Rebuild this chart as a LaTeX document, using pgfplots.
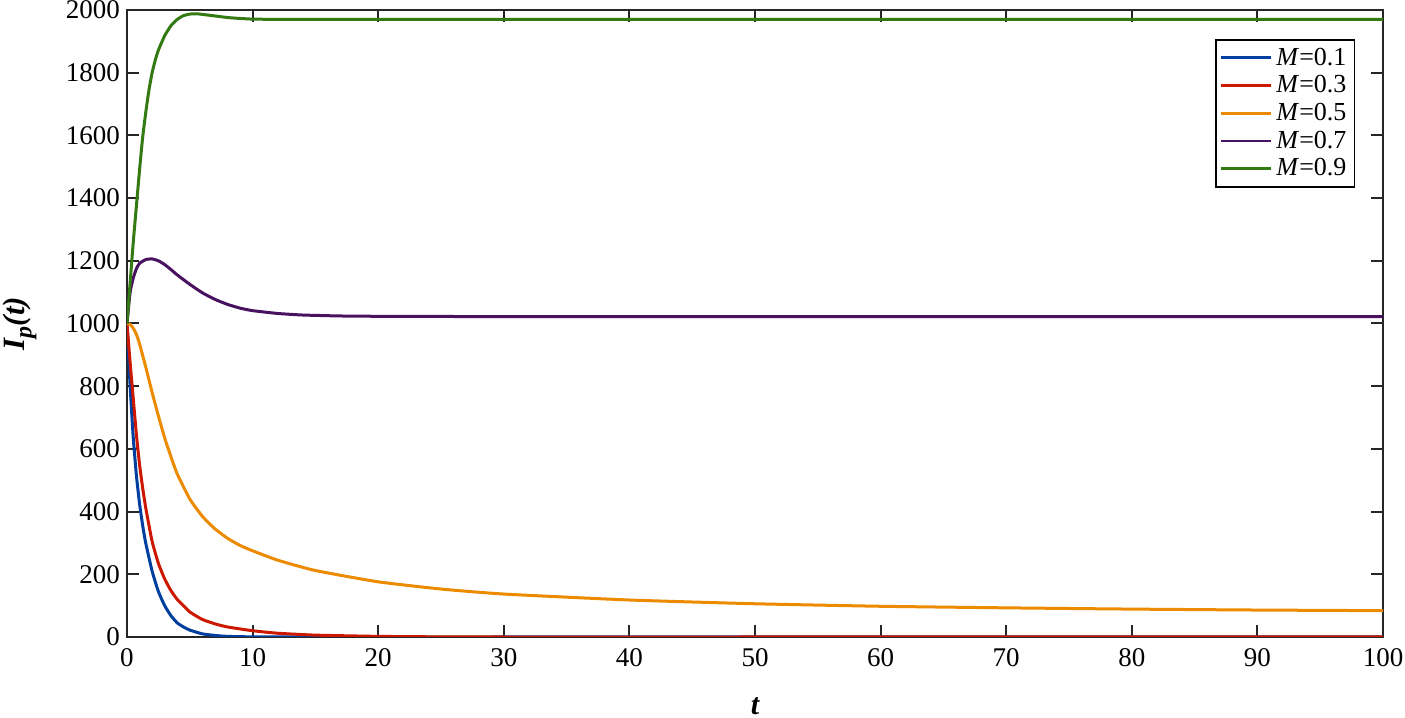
\documentclass[border=0pt]{standalone}
\usepackage{fontspec}
\setmainfont{Liberation Serif}
\usepackage{pgfplots}
\pgfplotsset{compat=1.18}
\definecolor{cBlue}{RGB}{0,63,160}
\definecolor{cRed}{RGB}{204,24,0}
\definecolor{cOrange}{RGB}{236,138,0}
\definecolor{cPurple}{RGB}{72,18,96}
\definecolor{cGreen}{RGB}{52,122,18}
\begin{document}
\begin{tikzpicture}
\begin{axis}[
  scale only axis,
  width=628pt, height=313.5pt,
  xmin=0, xmax=100, ymin=0, ymax=2000,
  xtick={0,10,...,100}, ytick={0,200,...,2000},
  tick align=inside,
  major tick length=6pt,
  axis line style={line width=1pt, black!85},
  every tick/.style={line width=1pt, black!85},
  ticklabel style={font=\fontsize{13.5}{15}\selectfont},
  /pgf/number format/assume math mode=true,
  /pgf/number format/1000 sep={},
  xticklabel style={yshift=-2pt},
  xlabel={\fontsize{15}{17}\selectfont\bfseries\itshape t},
  ylabel={\fontsize{15.5}{17}\selectfont\bfseries\itshape I\raisebox{-0.45ex}{\fontsize{12}{13}\selectfont p}(t)},
  every axis x label/.style={at={(axis description cs:0.5,-0.110)}, anchor=center},
  every axis y label/.style={at={(axis description cs:-0.0852,0.5)}, rotate=90, anchor=center},
  legend style={at={(0.978,0.954)}, anchor=north east, draw=black, line width=0.9pt,
    font=\fontsize{13}{14}\selectfont, inner sep=2pt, row sep=-0.3pt,
    legend cell align=left},
  legend image code/.code={\draw[#1, line width=1.4pt] (0pt,0pt) -- (25pt,0pt);},
  every axis plot/.append style={line width=1.5pt, smooth, tension=0.3},
]
\addplot[cBlue] coordinates {
(0,1000) (0.25,800) (0.5,635) (0.75,515) (1,425) (1.25,355) (1.5,298) (2,210) (2.5,145) (3,100) (3.5,68) (4,45) (4.5,32) (5,22) (6,10) (7,5) (8,2) (10,0.5) (15,0) (30,0) (50,0) (75,0) (100,0)
};
\addlegendentry{\textit{M}=0.1}
\addplot[cRed] coordinates {
(0,1000) (0.25,875) (0.5,760) (0.75,645) (1,550) (1.25,475) (1.5,410) (2,305) (2.5,235) (3,185) (3.5,148) (4,120) (5,80) (6,56) (7,42) (8,32) (10,20) (12,12) (15,6) (20,2) (25,0.5) (30,0) (50,0) (75,0) (100,0)
};
\addlegendentry{\textit{M}=0.3}
\addplot[cOrange] coordinates {
(0,1000) (0.25,997) (0.5,985) (0.75,965) (1,935) (1.5,860) (2,780) (2.5,705) (3,635) (3.5,575) (4,520) (5,440) (6,385) (7,345) (8,315) (9,292) (10,275) (12,245) (15,212) (20,176) (25,153) (30,137) (40,118) (50,106) (60,98) (70,93) (80,89) (90,86) (100,84)
};
\addlegendentry{\textit{M}=0.5}
\addplot[cPurple] coordinates {
(0,1000) (0.25,1100) (0.5,1145) (0.75,1175) (1,1192) (1.5,1204) (2,1206) (2.5,1200) (3,1188) (3.5,1172) (4,1155) (5,1125) (6,1098) (7,1077) (8,1061) (9,1049) (10,1041) (12,1032) (14,1027) (17,1024) (20,1023) (30,1022) (45,1022) (60,1022) (80,1022) (100,1022)
};
\addlegendentry{\textit{M}=0.7}
\addplot[cGreen] coordinates {
(0,1000) (0.25,1130) (0.5,1260) (0.75,1375) (1,1490) (1.25,1595) (1.5,1675) (1.75,1745) (2,1800) (2.25,1840) (2.5,1872) (3,1918) (3.5,1950) (4,1970) (4.5,1982) (5,1987) (5.5,1988) (6,1986) (7,1981) (8,1976) (9,1973) (10,1971) (12,1970) (16,1970) (25,1970) (40,1970) (60,1970) (80,1970) (100,1970)
};
\addlegendentry{\textit{M}=0.9}
\end{axis}
\pgfresetboundingbox
\path[use as bounding box] ([xshift=-63.5pt,yshift=-40.5pt]current axis.south west) rectangle ([xshift=11pt,yshift=5pt]current axis.north east);
\end{tikzpicture}
\end{document}
